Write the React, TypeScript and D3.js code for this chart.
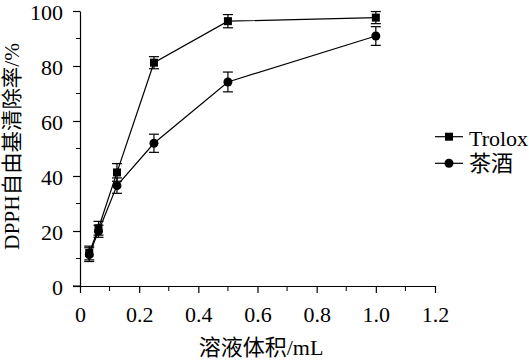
import { useEffect, useRef } from 'react';
import * as d3 from 'd3';

// solution volume (mL)
const volumes = [0.03125, 0.0625, 0.125, 0.25, 0.5, 1.0];
// DPPH scavenging rate (%)
const troloxValues = [12, 21, 41.3, 81.2, 96.3, 97.6];
const troloxErrors = [2.5, 2.5, 3.2, 2.2, 2.4, 2.2];
const teaValues = [11.4, 19.9, 36.5, 51.9, 74.2, 90.9];
const teaErrors = [2.5, 2.2, 2.8, 3.3, 3.6, 3.4];

const xTicks = [0, 0.2, 0.4, 0.6, 0.8, 1.0, 1.2];
const xMinorTicks = [0.1, 0.3, 0.5, 0.7, 0.9, 1.1];
const yTicks = [0, 20, 40, 60, 80, 100];
const yMinorTicks = [10, 30, 50, 70, 90];
const seriesNames = ['Trolox', '茶酒'];

const FONT = '"Liberation Serif", "Noto Sans CJK SC", serif';

export default function App() {
  const ref = useRef<SVGSVGElement>(null);

  useEffect(() => {
    const svg = d3.select(ref.current);
    svg.selectAll('*').remove();

    const x = d3.scaleLinear().domain([0, 1.2]).range([80, 435]);
    const y = d3.scaleLinear().domain([0, 100]).range([286, 11]);

    // axes
    const yAxis = svg.append('g').attr('transform', 'translate(80,0)');
    yAxis.call(
      d3.axisLeft(y).tickValues(yTicks).tickSize(7).tickSizeOuter(0).tickPadding(10)
    );
    yAxis.append('g').selectAll('line').data(yMinorTicks).enter().append('line')
      .attr('x1', -4).attr('x2', 0)
      .attr('y1', d => y(d)).attr('y2', d => y(d))
      .attr('stroke', '#000');

    const xAxis = svg.append('g').attr('transform', 'translate(0,286)');
    xAxis.call(
      d3.axisBottom(x).tickValues(xTicks).tickSize(7).tickSizeOuter(0)
        .tickFormat(d => (d === 0 ? '0' : d3.format('.1f')(d as number)))
    );
    xAxis.append('g').selectAll('line').data(xMinorTicks).enter().append('line')
      .attr('x1', d => x(d)).attr('x2', d => x(d))
      .attr('y1', 0).attr('y2', 5)
      .attr('stroke', '#000');
    xAxis.append('line').attr('x1', 73).attr('x2', 80).attr('y1', 0).attr('y2', 0).attr('stroke', '#000');

    yAxis.attr('font-family', null).attr('font-size', null);
    xAxis.attr('font-family', null).attr('font-size', null);
    svg.selectAll('.domain').attr('stroke', '#000').attr('stroke-width', 1.2);
    svg.selectAll('.tick line').attr('stroke', '#000').attr('stroke-width', 1.2);
    svg.selectAll('.tick text').attr('fill', '#000').style('font-family', 'Liberation Serif');
    yAxis.selectAll('.tick text').attr('dy', '0.4em');
    xAxis.selectAll('.tick text').attr('y', 36).attr('dy', 0);

    // axis titles
    svg.append('text')
      .attr('transform', 'translate(19,146.5) rotate(-90)')
      .attr('text-anchor', 'middle')
      .attr('font-size', 21)
      .attr('textLength', 207)
      .attr('lengthAdjust', 'spacingAndGlyphs')
      .text('DPPH自由基清除率/%');
    svg.append('text')
      .attr('x', 261).attr('y', 355)
      .attr('text-anchor', 'middle')
      .text('溶液体积/mL');

    const line = d3.line<number>().x((_, i) => x(volumes[i])).y(d => y(d));

    const series = [
      { name: seriesNames[0], values: troloxValues, errors: troloxErrors, shape: 'square' },
      { name: seriesNames[1], values: teaValues, errors: teaErrors, shape: 'circle' },
    ];

    const drawMarker = (g: any, shape: string, cx: number, cy: number) => {
      if (shape === 'square') {
        g.append('rect').attr('x', cx - 4).attr('y', cy - 4).attr('width', 8).attr('height', 8).attr('fill', '#000');
      } else {
        g.append('circle').attr('cx', cx).attr('cy', cy).attr('r', 4.5).attr('fill', '#000');
      }
    };

    series.forEach(s => {
      const g = svg.append('g');
      g.append('path').datum(s.values).attr('d', line)
        .attr('fill', 'none').attr('stroke', '#000').attr('stroke-width', 1.2);
      s.values.forEach((v, i) => {
        const cx = x(volumes[i]);
        const top = y(v + s.errors[i]);
        const bot = y(v - s.errors[i]);
        const eb = g.append('g').attr('stroke', '#000').attr('stroke-width', 1.2);
        eb.append('line').attr('x1', cx).attr('x2', cx).attr('y1', top).attr('y2', bot);
        eb.append('line').attr('x1', cx - 5).attr('x2', cx + 5).attr('y1', top).attr('y2', top);
        eb.append('line').attr('x1', cx - 5).attr('x2', cx + 5).attr('y1', bot).attr('y2', bot);
        drawMarker(g, s.shape, cx, y(v));
      });
    });

    // legend
    series.forEach((s, i) => {
      const ly = 136.7 + i * 26.6;
      const g = svg.append('g');
      g.append('line').attr('x1', 435).attr('x2', 463).attr('y1', ly).attr('y2', ly)
        .attr('stroke', '#000').attr('stroke-width', 1.2);
      drawMarker(g, s.shape, 449, ly);
      const t = g.append('text').attr('x', 469).attr('y', ly + (i === 0 ? 9.3 : 8))
        .text(s.name);
      if (i === 0) t.style('font-family', 'Liberation Serif');
    });
  }, []);

  return (
    <svg
      ref={ref}
      width={529}
      height={364}
      style={{
        position: 'absolute',
        left: 0,
        top: 0,
        background: '#fff',
        fontFamily: FONT,
        fontSize: 22,
      }}
    />
  );
}
